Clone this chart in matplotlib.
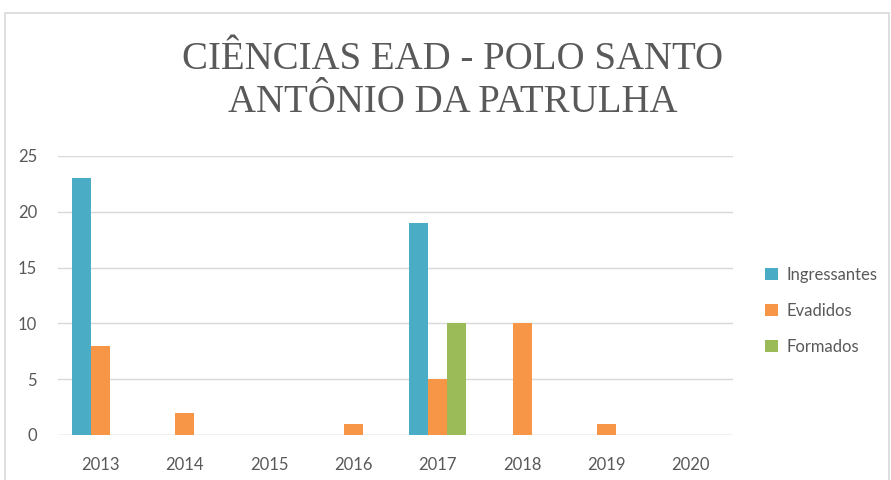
import numpy as np
import matplotlib
matplotlib.use("Agg")
import matplotlib.pyplot as plt
from matplotlib.patches import Rectangle

# Dados
anos = ['2013', '2014', '2015', '2016', '2017', '2018', '2019', '2020']
ingressantes = [23, 0, 0, 0, 19, 0, 0, 0]
evadidos = [8, 2, 0, 1, 5, 10, 1, 0]
formados = [0, 0, 0, 0, 10, 0, 0, 0]

series = ['Ingressantes', 'Evadidos', 'Formados']
cores = ['#4bacc6', '#f79646', '#9bbb59']
cinza = '#595959'

fig = plt.figure(figsize=(8.91, 4.80), dpi=100)
ax = fig.add_axes([0.0651, 0.0938, 0.7576, 0.5813])

x = np.arange(len(anos))
w = 0.225
for i, (nome, vals, cor) in enumerate(zip(series, [ingressantes, evadidos, formados], cores)):
    ax.bar(x + (i - 1) * w, vals, width=w, color=cor, label=nome, zorder=3)

ax.set_xlim(-0.5, len(anos) - 0.5)
ax.set_ylim(0, 25)
ax.set_yticks(range(0, 26, 5))
ax.set_xticks(x)
ax.set_xticklabels(anos)
ax.grid(axis='y', color='#d9d9d9', linewidth=1, zorder=0)
for s in ax.spines.values():
    s.set_visible(False)
ax.axhline(0, color='#d9d9d9', linewidth=1, zorder=2)
ax.tick_params(length=0, labelsize=12, labelcolor=cinza)
for t in ax.get_xticklabels() + ax.get_yticklabels():
    t.set_fontfamily('Lato')
ax.tick_params(axis='x', pad=16)
ax.tick_params(axis='y', pad=15)

leg = ax.legend(loc='center left', bbox_to_anchor=(1.025, 0.445), frameon=False,
                prop={'family': 'Lato', 'size': 12}, labelcolor=cinza,
                handlelength=0.8, handleheight=0.8, handletextpad=0.5, labelspacing=1.2)

# Título
fig.text(0.508, 0.831, 'CIÊNCIAS EAD - POLO SANTO\nANTÔNIO DA PATRULHA', ha='center', va='center',
         fontsize=28, color=cinza, family='Liberation Serif', linespacing=1.22)

# Moldura do gráfico
fig.patches.append(Rectangle((5 / 891, -0.01), 884 / 891, 1 - 13 / 480 + 0.01, transform=fig.transFigure,
                             fill=False, edgecolor='#d9d9d9', linewidth=1.2))

fig.savefig('out.png', dpi=100)
